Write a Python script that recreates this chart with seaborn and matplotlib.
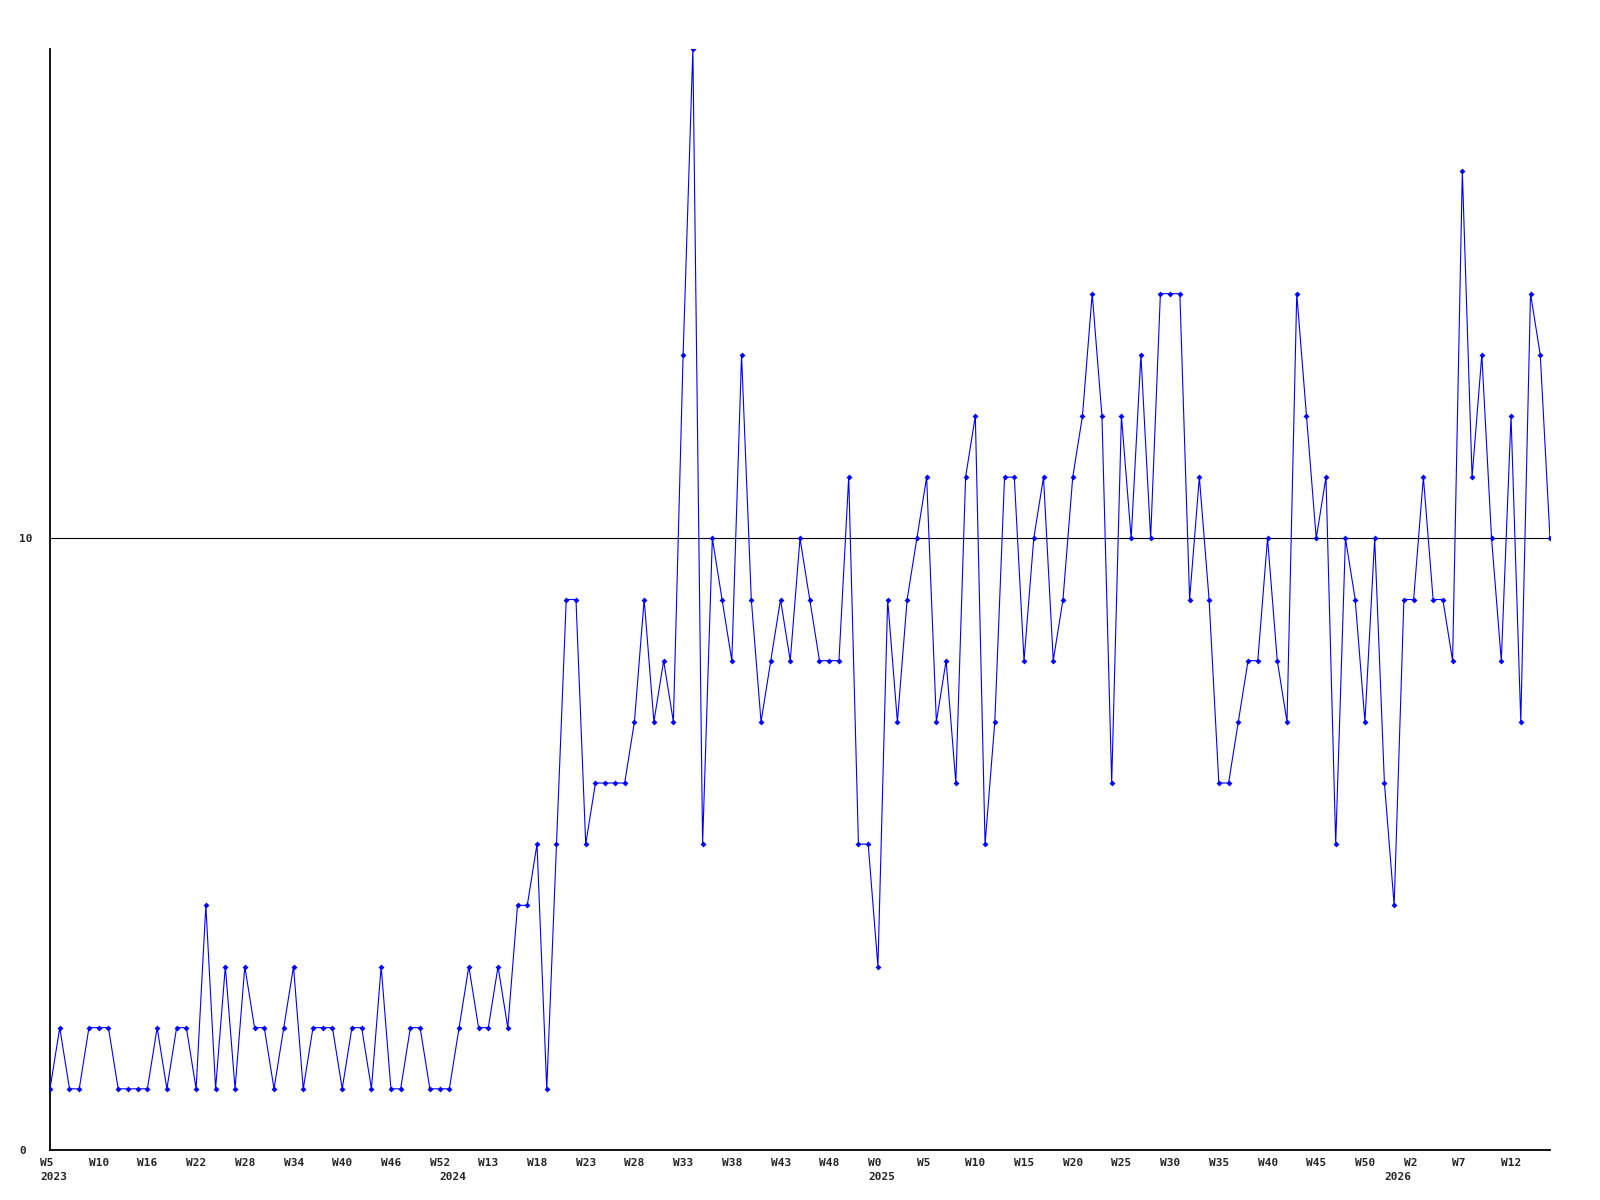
import numpy as np
import pandas as pd
import matplotlib
matplotlib.use("Agg")
import matplotlib.pyplot as plt
import matplotlib.transforms as mtransforms
import seaborn as sns

# weekly values (2023 W5 .. 2026 W15)
values = [1, 2, 1, 1, 2, 2, 2, 1, 1, 1, 1, 2, 1, 2, 2, 1, 4, 1, 3, 1,
          3, 2, 2, 1, 2, 3, 1, 2, 2, 2, 1, 2, 2, 1, 3, 1, 1, 2, 2, 1,
          1, 1, 2, 3, 2, 2, 3, 2, 4, 4, 5, 1, 5, 9, 9, 5, 6, 6, 6, 6,
          7, 9, 7, 8, 7, 13, 18, 5, 10, 9, 8, 13, 9, 7, 8, 9, 8, 10, 9, 8,
          8, 8, 11, 5, 5, 3, 9, 7, 9, 10, 11, 7, 8, 6, 11, 12, 5, 7, 11, 11,
          8, 10, 11, 8, 9, 11, 12, 14, 12, 6, 12, 10, 13, 10, 14, 14, 14, 9, 11, 9,
          6, 6, 7, 8, 8, 10, 8, 7, 14, 12, 10, 11, 5, 10, 9, 7, 10, 6, 4, 9,
          9, 11, 9, 9, 8, 16, 11, 13, 10, 8, 12, 7, 14, 13, 10]

# tick labels every 5 points, as printed on the chart
week_labels = ["W5", "W10", "W16", "W22", "W28", "W34", "W40", "W46", "W52",
               "W13", "W18", "W23", "W28", "W33", "W38", "W43", "W48",
               "W0", "W5", "W10", "W15", "W20", "W25", "W30", "W35",
               "W40", "W45", "W50", "W2", "W7", "W12"]
years = ["2023", "2024", "2025", "2026"]
year_pos = [0, 41, 85, 138]

df = pd.DataFrame({"idx": np.arange(len(values)), "count": values})

sns.set_theme(style="white")
plt.rcParams["font.family"] = ["DejaVu Sans Mono", "DejaVu Sans"]

fig = plt.figure(figsize=(16, 12), dpi=100)
ax = fig.add_axes([50 / 1600, 50 / 1200, 1500 / 1600, 1101 / 1200])

ax.axhline(10, color="black", lw=0.8, zorder=1)
sns.lineplot(data=df, x="idx", y="count", ax=ax, color="#0000ff",
             linewidth=0.8, marker="D", markersize=3, markeredgewidth=0,
             zorder=3)

ax.set_xlim(0, len(values) - 1)
ax.set_ylim(0, 18)
ax.set_xlabel("")
ax.set_ylabel("")

for side in ["top", "right"]:
    ax.spines[side].set_visible(False)
for side in ["left", "bottom"]:
    ax.spines[side].set_color("black")
    ax.spines[side].set_linewidth(1.3)

ax.set_xticks(range(0, len(values), 5))
ax.set_xticklabels(week_labels, fontsize=8, fontweight="bold")
ax.set_yticks([0, 10])
ax.set_yticklabels(["0", "10"], fontsize=8, fontweight="bold")
ax.tick_params(axis="both", length=0)
ax.tick_params(axis="x", pad=6)
ax.tick_params(axis="y", pad=22)
for lab in ax.get_yticklabels():
    lab.set_ha("left")

shift = mtransforms.ScaledTranslation(-10 / 100, 0, fig.dpi_scale_trans)
for lab in ax.get_xticklabels():
    lab.set_ha("left")
    lab.set_transform(lab.get_transform() + shift)

for yr, pos in zip(years, year_pos):
    ax.annotate(yr, xy=(pos, 0), xycoords=("data", "axes fraction"),
                xytext=(-7.2, -19.5), textcoords="offset points",
                ha="left", va="center", fontsize=8, fontweight="bold")

fig.savefig("out.png", dpi=100, facecolor="white")
